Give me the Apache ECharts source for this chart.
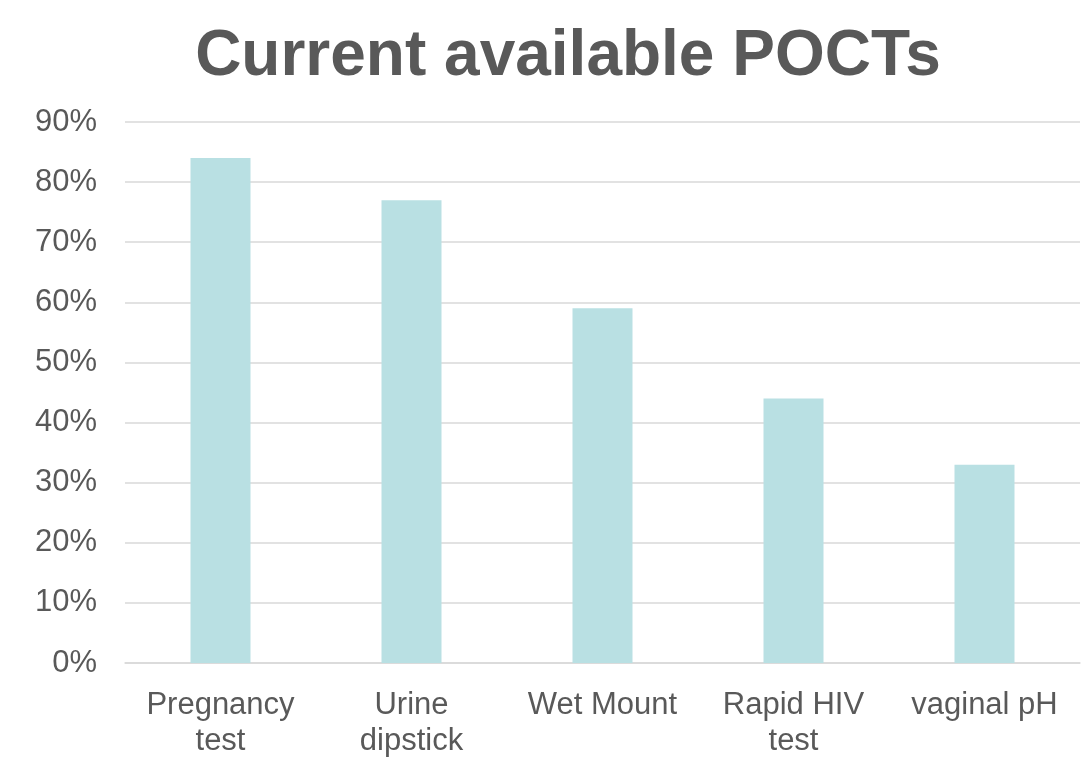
<!DOCTYPE html>
<html><head><meta charset="utf-8">
<script src="https://cdn.jsdelivr.net/npm/echarts@6/dist/echarts.min.js"></script>
<style>html,body{margin:0;padding:0;background:#fff;overflow:hidden}#c{width:1090px;height:759px}</style>
</head><body><div id="c"></div>
<script>
const categories = ['Pregnancy\ntest', 'Urine\ndipstick', 'Wet Mount', 'Rapid HIV\ntest', 'vaginal pH'];
const values = [84, 77, 59, 44, 33];
const yTicks = [0, 10, 20, 30, 40, 50, 60, 70, 80, 90];

const el = document.getElementById('c');
const chart = echarts.init(el, null, {renderer: 'canvas'});
chart.setOption({
  animation: false,
  backgroundColor: '#fff',
  title: {
    text: 'Current available POCTs',
    top: 20,
    left: 563, textAlign: 'center',
    textStyle: {fontFamily: 'Liberation Sans', fontWeight: 'bold', fontSize: 64, color: '#595959'}
  },
  grid: {left: 125, right: 10, top: 122, height: 549, containLabel: false},
  xAxis: {
    type: 'category', data: categories,
    axisLine: {show: true, lineStyle: {color: '#d9d9d9', width: 1.5}},
    axisTick: {show: false},
    axisLabel: {fontFamily: 'Liberation Sans', fontSize: 31, color: '#595959', margin: 24, lineHeight: 36, interval: 0}
  },
  yAxis: {
    type: 'value', min: 0, max: 90, interval: 10,
    axisLine: {show: false}, axisTick: {show: false},
    splitLine: {lineStyle: {color: '#d9d9d9', width: 1.5}},
    axisLabel: {fontFamily: 'Liberation Sans', fontSize: 31, color: '#595959', margin: 28,
      formatter: v => yTicks.includes(v) ? v + '%' : ''}
  },
  series: [{
    type: 'bar', data: values, barWidth: 60,
    itemStyle: {color: '#b9e0e3'}
  }]
});
</script></body></html>
